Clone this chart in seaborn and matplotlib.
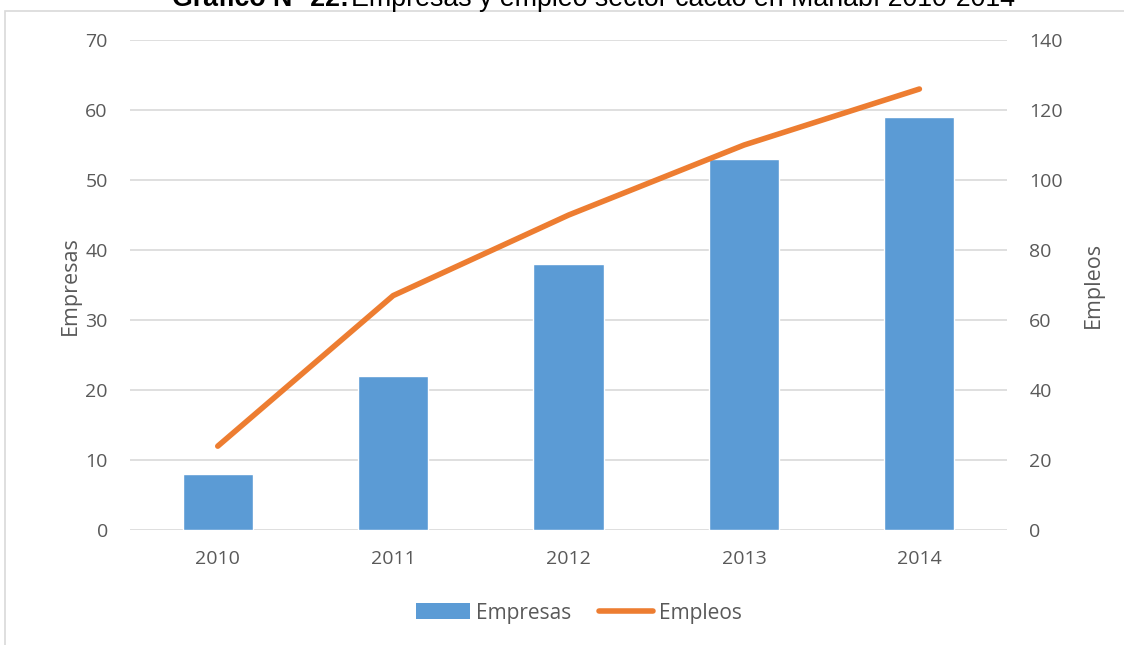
import matplotlib

matplotlib.use('Agg')
import matplotlib.pyplot as plt
import seaborn as sns
import pandas as pd
import numpy as np
from matplotlib.patches import Rectangle, Patch
from matplotlib.lines import Line2D

years = ["2010", "2011", "2012", "2013", "2014"]
empresas = [8, 22, 38, 53, 59]
empleos = [24, 67, 90, 110, 126]

bar_color = "#5b9bd5"
line_color = "#ed7d31"
text_color = "#595959"
grid_color = "#d9d9d9"

df = pd.DataFrame({"year": years, "Empresas": empresas, "Empleos": empleos})
df["pos"] = np.arange(len(years))

sns.set_style("white")
plt.rcParams['font.family'] = ['Open Sans', 'DejaVu Sans']

fig = plt.figure(figsize=(11.24, 6.45), dpi=100)
ax = fig.add_axes([0.1157, 0.178, 0.7803, 0.76])

# outer chart frame
fig.patches.append(Rectangle((5 / 1124, -0.01), 1.02, 1 - 11 / 645 + 0.01, transform=fig.transFigure,
                             fill=False, edgecolor="#d9d9d9", lw=1.2, zorder=0))

sns.barplot(data=df, x="year", y="Empresas", color=bar_color, width=0.4, saturation=1, ax=ax, zorder=2)
ax.set_ylim(0, 70)
ax.set_yticks(range(0, 71, 10))
ax.set_xlim(-0.5, 4.5)
ax.grid(axis="y", color=grid_color, lw=1.2, zorder=0)
ax.set_axisbelow(True)
for s in ax.spines.values():
    s.set_visible(False)
ax.set_xlabel("")
ax.set_ylabel("Empresas", fontsize=15.5, color=text_color, labelpad=3)
ax.tick_params(axis="y", length=0, labelsize=14, labelcolor=text_color, pad=16)
ax.tick_params(axis="x", length=0, labelsize=14, labelcolor=text_color, pad=14)

ax2 = ax.twinx()
sns.lineplot(data=df, x="pos", y="Empleos", color=line_color, lw=4, ax=ax2,
             solid_capstyle="round", zorder=3)
ax2.set_ylim(0, 140)
ax2.set_yticks(range(0, 141, 20))
ax2.set_xlim(-0.5, 4.5)
for s in ax2.spines.values():
    s.set_visible(False)
ax2.set_ylabel("Empleos", fontsize=15.5, color=text_color, labelpad=14)
ax2.tick_params(axis="both", length=0, labelsize=14, labelcolor=text_color, pad=16)

handles = [Patch(facecolor=bar_color, edgecolor="none"),
           Line2D([0], [0], color=line_color, lw=4, solid_capstyle="round")]
fig.legend(handles, ["Empresas", "Empleos"], loc="center", bbox_to_anchor=(0.515, 1 - 613 / 645),
           ncol=2, frameon=False, fontsize=15, labelcolor=text_color, handlelength=2.6,
           handleheight=0.8, handletextpad=0.3, columnspacing=1.3)

# title partly cut off at top edge
ty = 1 - 5.5 / 645
fig.text(0.3105, ty, "Gráfico N° 22:", fontsize=19.3, fontweight="bold", ha="right", va="baseline",
         family="Liberation Sans", color="black")
fig.text(0.3125, ty, "Empresas y empleo sector cacao en Manabí 2010-2014", fontsize=19.3, ha="left",
         va="baseline", family="Liberation Sans", color="black")

plt.savefig("out.png", dpi=100)
